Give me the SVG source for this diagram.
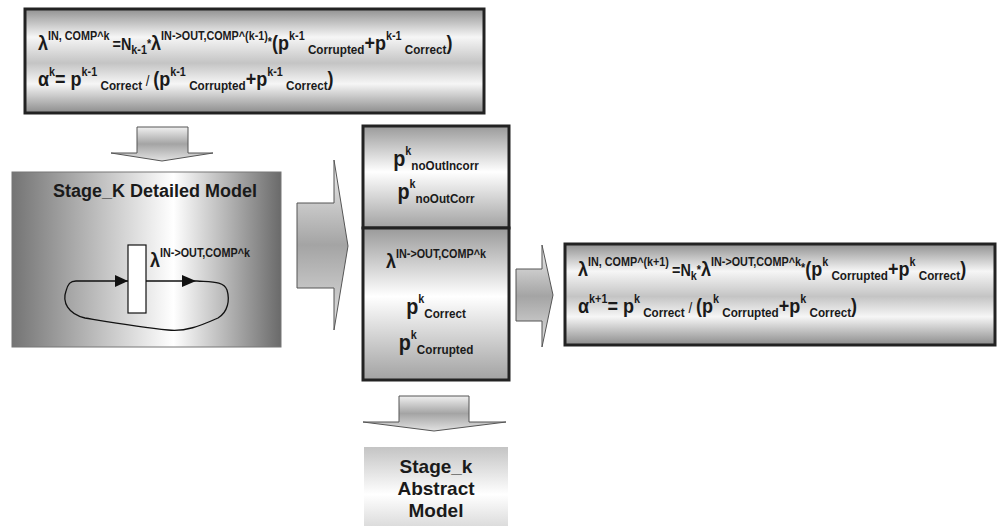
<svg xmlns="http://www.w3.org/2000/svg" width="997" height="526" viewBox="0 0 997 526">
<defs>
<linearGradient id="gMetal" x1="0" y1="0" x2="0" y2="1">
<stop offset="0" stop-color="#919191"/>
<stop offset="0.27" stop-color="#f6f6f6"/>
<stop offset="0.52" stop-color="#c4c4c4"/>
<stop offset="0.72" stop-color="#f6f6f6"/>
<stop offset="1" stop-color="#8c8c8c"/>
</linearGradient>
<linearGradient id="gH" x1="0" y1="0" x2="1" y2="0">
<stop offset="0" stop-color="#747474"/>
<stop offset="0.6" stop-color="#ffffff"/>
<stop offset="1" stop-color="#6a6a6a"/>
</linearGradient>
<linearGradient id="gArrow" x1="0" y1="0" x2="0" y2="1">
<stop offset="0" stop-color="#f0f0f0"/>
<stop offset="0.5" stop-color="#a4a4a4"/>
<stop offset="1" stop-color="#e2e2e2"/>
</linearGradient>
<linearGradient id="gBox" x1="0" y1="0" x2="0" y2="1">
<stop offset="0" stop-color="#9a9a9a"/>
<stop offset="0.45" stop-color="#ffffff"/>
<stop offset="1" stop-color="#a2a2a2"/>
</linearGradient>
<linearGradient id="gAbs" x1="0" y1="0" x2="0" y2="1">
<stop offset="0" stop-color="#c4c4c4"/>
<stop offset="0.6" stop-color="#ffffff"/>
<stop offset="1" stop-color="#dcdcdc"/>
</linearGradient>
</defs>
<style>
text{font-family:"Liberation Sans",Arial,sans-serif;font-weight:bold;fill:#1a1a1a}
.b{font-size:20px}
.p{font-size:22px}
.m{font-size:16px}
.s{font-size:12px}
.u{font-size:13px}
.r{font-size:15px;font-weight:normal}
.frame{stroke:#222;stroke-width:3}
.arrow{fill:url(#gArrow);stroke:#555;stroke-width:1}
.ttl{font-size:18px}
.abs{font-size:19px}
</style>

<g id="formula-top">
<rect x="25" y="9" width="459" height="104" fill="url(#gMetal)" class="frame"/>
<text transform="translate(38,50) scale(0.9,1)"><tspan class="b">λ</tspan><tspan class="s" dy="-10">IN, COMP^k </tspan><tspan class="m" dy="10">=N</tspan><tspan class="s" dy="4">k-1</tspan><tspan class="s" dy="-6">*</tspan><tspan class="b" dy="2">λ</tspan><tspan class="s" dy="-10">IN-&gt;OUT,COMP^(k-1)</tspan><tspan class="s" dy="6">*</tspan><tspan class="b" dy="4">(p</tspan><tspan class="s" dy="-10">k-1</tspan><tspan class="u" dy="14"> Corrupted</tspan><tspan class="b" dy="-4">+p</tspan><tspan class="s" dy="-10">k-1</tspan><tspan class="u" dy="14"> Correct</tspan><tspan class="b" dy="-4">)</tspan></text>
<text transform="translate(38,86) scale(0.9,1)"><tspan class="b">α</tspan><tspan class="s" dy="-10">k</tspan><tspan class="b" dy="10">= p</tspan><tspan class="s" dy="-10">k-1</tspan><tspan class="u" dy="14"> Correct</tspan><tspan class="r" dy="-4"> / </tspan><tspan class="b">(p</tspan><tspan class="s" dy="-10">k-1</tspan><tspan class="u" dy="14"> Corrupted</tspan><tspan class="b" dy="-4">+p</tspan><tspan class="s" dy="-10">k-1</tspan><tspan class="u" dy="14"> Correct</tspan><tspan class="b" dy="-4">)</tspan></text>
</g>

<g id="stage-detailed">
<rect x="12" y="172" width="269" height="175" fill="url(#gH)" stroke="#777" stroke-width="1"/>
<text x="155" y="197" text-anchor="middle" class="ttl">Stage_K Detailed Model</text>
<rect x="128" y="245" width="18" height="68" fill="#fff" stroke="#111" stroke-width="1.2"/>
<text transform="translate(150,267) scale(0.9,1)"><tspan class="b">λ</tspan><tspan class="s" dy="-10">IN-&gt;OUT,COMP^k</tspan></text>
<path d="M197,281 C212,282 224,281 227,290 C230,300 228,312 218,318 C200,326 185,332 168,330 C140,327 110,322 85,318 C68,314 62,302 66,291 C68,284 70,281 76,281 L128,281 M146,281 L197,281" fill="none" stroke="#111" stroke-width="1.3"/>
<polygon points="115,275 128,281 115,287" fill="#111"/>
<polygon points="182,275 196,281 182,287" fill="#111"/>
</g>

<g id="stage-abstract-params">
<rect x="363" y="126" width="146" height="102" fill="url(#gBox)" class="frame"/>
<rect x="363" y="228" width="146" height="152" fill="url(#gBox)" class="frame"/>
<text transform="translate(436,166) scale(0.9,1)" text-anchor="middle"><tspan class="p">p</tspan><tspan class="s" dy="-11">k</tspan><tspan class="u" dy="15">noOutIncorr</tspan></text>
<text transform="translate(436,199) scale(0.9,1)" text-anchor="middle"><tspan class="p">p</tspan><tspan class="s" dy="-11">k</tspan><tspan class="u" dy="15">noOutCorr</tspan></text>
<text transform="translate(436,268) scale(0.9,1)" text-anchor="middle"><tspan class="b">λ</tspan><tspan class="s" dy="-10">IN-&gt;OUT,COMP^k</tspan></text>
<text transform="translate(436,314) scale(0.9,1)" text-anchor="middle"><tspan class="p">p</tspan><tspan class="s" dy="-11">k</tspan><tspan class="u" dy="15">Correct</tspan></text>
<text transform="translate(436,350) scale(0.9,1)" text-anchor="middle"><tspan class="p">p</tspan><tspan class="s" dy="-11">k</tspan><tspan class="u" dy="15">Corrupted</tspan></text>
</g>

<g id="formula-next">
<rect x="565" y="244" width="430" height="101" fill="url(#gMetal)" class="frame"/>
<text transform="translate(578,276) scale(0.9,1)"><tspan class="b">λ</tspan><tspan class="s" dy="-10">IN, COMP^(k+1) </tspan><tspan class="m" dy="10">=N</tspan><tspan class="s" dy="4">k</tspan><tspan class="s" dy="-6">*</tspan><tspan class="b" dy="2">λ</tspan><tspan class="s" dy="-10">IN-&gt;OUT,COMP^k</tspan><tspan class="s" dy="6">*</tspan><tspan class="b" dy="4">(p</tspan><tspan class="s" dy="-10">k</tspan><tspan class="u" dy="14"> Corrupted</tspan><tspan class="b" dy="-4">+p</tspan><tspan class="s" dy="-10">k</tspan><tspan class="u" dy="14"> Correct</tspan><tspan class="b" dy="-4">)</tspan></text>
<text transform="translate(578,313) scale(0.9,1)"><tspan class="b">α</tspan><tspan class="s" dy="-10">k+1</tspan><tspan class="b" dy="10">= p</tspan><tspan class="s" dy="-10">k</tspan><tspan class="u" dy="14"> Correct</tspan><tspan class="r" dy="-4"> / </tspan><tspan class="b">(p</tspan><tspan class="s" dy="-10">k</tspan><tspan class="u" dy="14"> Corrupted</tspan><tspan class="b" dy="-4">+p</tspan><tspan class="s" dy="-10">k</tspan><tspan class="u" dy="14"> Correct</tspan><tspan class="b" dy="-4">)</tspan></text>
</g>

<g id="stage-abstract">
<rect x="364" y="447" width="144" height="79" fill="url(#gAbs)"/>
<text x="436" y="473" text-anchor="middle" class="abs">Stage_k</text>
<text x="436" y="495" text-anchor="middle" class="abs">Abstract</text>
<text x="436" y="517" text-anchor="middle" class="abs">Model</text>
</g>

<g id="connectors">
<polygon class="arrow" points="137,127 188,127 188,153 213,153 162,161 111,153 137,153"/>
<polygon class="arrow" points="297,203 334,203 334,160 348,246 334,330 334,288 297,288"/>
<polygon class="arrow" points="516,269 542,269 542,245 553,295 542,347 542,321 516,321"/>
<polygon class="arrow" points="399,396 469,396 469,422 506,422 434,431 363,422 399,422"/>
</g>
</svg>
